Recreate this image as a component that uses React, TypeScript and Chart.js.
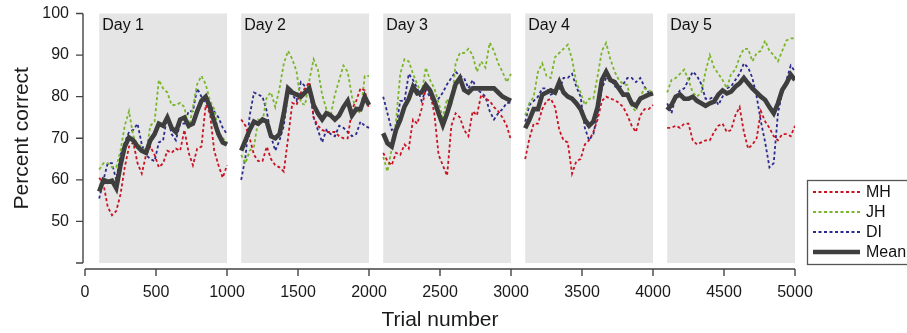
import React, { useEffect, useRef } from 'react';
import { Chart, registerables } from 'chart.js';

Chart.register(...registerables);

const FONT = '"Liberation Sans", Arial, Helvetica, sans-serif';

// ---- data ----
const dayLabels = ['Day 1', 'Day 2', 'Day 3', 'Day 4', 'Day 5'];
const dayStarts = [100, 1100, 2100, 3100, 4100];
const dayEnds = [1000, 2000, 3000, 4000, 5000];
const trialOffsets = [100, 130, 160, 190, 220, 250, 280, 310, 340, 370, 400, 430, 460, 490, 520, 550, 580, 610, 640, 670, 700, 730, 760, 790, 820, 850, 880, 910, 940, 970, 1000];
const xTickValues = [0, 500, 1000, 1500, 2000, 2500, 3000, 3500, 4000, 4500, 5000];
const yTickValues = [40, 50, 60, 70, 80, 90, 100];

const mhDay1 = [60.5, 59.0, 53.5, 51.5, 52.5, 56.5, 63.0, 68.0, 69.0, 64.0, 61.5, 66.0, 68.0, 66.0, 63.0, 64.0, 67.0, 66.5, 67.5, 67.0, 72.0, 66.5, 63.5, 67.5, 68.0, 78.0, 76.0, 67.0, 63.5, 60.5, 63.5];
const mhDay2 = [74.5, 73.0, 70.0, 66.0, 64.5, 64.5, 68.0, 65.0, 63.5, 63.0, 62.0, 70.0, 78.5, 78.0, 81.0, 82.0, 83.5, 75.0, 73.0, 72.0, 71.5, 71.5, 71.5, 70.5, 70.0, 70.0, 77.0, 79.0, 82.0, 81.5, 77.0];
const mhDay3 = [66.5, 64.5, 63.5, 66.5, 66.0, 68.5, 67.5, 74.5, 73.5, 77.0, 82.0, 81.0, 76.0, 66.0, 63.5, 61.0, 73.0, 76.0, 75.0, 72.0, 70.5, 76.5, 75.5, 80.5, 79.5, 79.0, 77.5, 76.5, 75.0, 73.0, 69.5];
const mhDay4 = [65.0, 70.0, 73.5, 73.5, 77.0, 79.0, 79.5, 77.5, 72.0, 69.5, 69.0, 61.5, 64.5, 65.0, 68.5, 69.5, 71.5, 74.5, 79.0, 80.0, 79.5, 79.2, 78.5, 77.5, 75.5, 73.0, 71.5, 75.5, 77.0, 77.0, 78.0];
const mhDay5 = [72.5, 72.5, 73.0, 72.5, 73.5, 73.5, 69.5, 68.5, 69.0, 69.5, 69.5, 71.5, 73.0, 73.5, 71.5, 72.0, 75.5, 77.5, 71.5, 67.5, 68.5, 70.0, 76.5, 74.0, 72.5, 70.5, 69.5, 71.0, 71.0, 70.5, 73.0];

const jhDay1 = [62.5, 64.0, 64.0, 63.0, 63.0, 67.0, 73.0, 76.5, 70.5, 68.5, 68.0, 66.5, 73.0, 74.0, 84.0, 82.0, 81.0, 78.0, 78.0, 78.5, 77.5, 72.0, 77.5, 83.0, 85.0, 83.0, 79.0, 77.0, 71.5, 70.0, 69.0];
const jhDay2 = [66.0, 64.0, 67.0, 68.0, 74.5, 74.0, 80.0, 81.0, 77.5, 82.0, 88.0, 91.0, 89.0, 86.0, 78.5, 78.0, 84.0, 89.0, 86.5, 80.5, 77.0, 75.5, 80.5, 84.0, 87.5, 86.0, 80.0, 77.0, 76.0, 85.0, 85.0];
const jhDay3 = [65.5, 62.0, 67.5, 74.0, 85.5, 89.0, 88.5, 85.5, 83.0, 80.5, 87.0, 84.0, 82.0, 78.5, 75.0, 79.5, 77.5, 88.0, 90.5, 90.5, 91.5, 90.0, 86.0, 88.5, 87.0, 93.0, 91.0, 88.0, 86.0, 83.5, 85.5];
const jhDay4 = [75.5, 78.5, 80.0, 86.0, 88.0, 85.0, 84.5, 89.5, 90.5, 91.5, 92.5, 89.0, 83.5, 81.0, 78.0, 79.5, 79.5, 85.0, 91.0, 92.9, 89.0, 86.0, 84.0, 83.0, 82.8, 77.5, 76.5, 80.0, 82.0, 81.5, 81.0];
const jhDay5 = [81.0, 84.0, 84.5, 85.5, 86.5, 84.0, 81.0, 80.0, 81.0, 86.0, 90.0, 87.0, 85.5, 84.0, 82.0, 85.5, 86.5, 89.5, 91.5, 91.5, 88.5, 90.5, 91.0, 93.5, 91.0, 90.0, 88.5, 91.0, 93.5, 94.0, 94.0];

const diDay1 = [55.5, 60.0, 64.0, 64.0, 60.0, 66.0, 69.0, 71.5, 72.0, 73.5, 68.5, 66.0, 65.0, 64.5, 69.0, 69.5, 75.5, 71.0, 69.5, 73.5, 73.5, 76.5, 76.5, 82.0, 80.0, 78.5, 78.0, 76.5, 75.0, 72.5, 71.0];
const diDay2 = [60.0, 65.5, 75.5, 81.0, 80.5, 80.0, 76.5, 70.5, 67.0, 69.5, 73.0, 81.0, 80.5, 79.0, 83.5, 82.5, 82.5, 75.0, 72.0, 69.0, 72.0, 71.0, 70.5, 73.0, 72.5, 71.5, 70.5, 71.0, 74.0, 73.0, 72.5];
const diDay3 = [80.0, 76.0, 72.0, 72.5, 79.0, 79.0, 85.5, 84.0, 82.0, 79.0, 81.5, 80.0, 78.5, 79.5, 81.0, 83.0, 84.5, 86.0, 85.0, 84.5, 82.0, 84.0, 81.6, 81.0, 80.0, 76.5, 74.5, 76.0, 77.0, 78.5, 78.5];
const diDay4 = [74.0, 78.0, 79.0, 80.0, 82.0, 82.0, 80.5, 81.0, 81.5, 84.5, 84.5, 85.5, 82.4, 80.0, 72.5, 69.5, 71.0, 76.0, 82.0, 84.5, 84.5, 82.5, 82.0, 83.0, 84.5, 84.5, 83.5, 84.5, 82.4, 81.0, 80.5];
const diDay5 = [78.4, 76.0, 80.0, 81.5, 82.0, 84.0, 86.0, 85.0, 83.0, 79.5, 79.5, 80.0, 78.0, 80.0, 82.0, 82.5, 84.0, 85.5, 88.0, 87.0, 84.5, 80.0, 74.0, 69.0, 63.0, 64.0, 76.0, 81.0, 84.0, 87.5, 86.0];

const meanDay1 = [57.2, 60.0, 59.5, 59.8, 58.0, 63.5, 68.0, 70.2, 69.5, 68.0, 67.0, 66.5, 69.5, 71.0, 73.5, 73.0, 75.0, 72.5, 71.5, 74.5, 75.0, 73.0, 73.5, 76.5, 79.0, 80.0, 77.5, 74.0, 71.0, 69.0, 68.5];
const meanDay2 = [67.0, 69.5, 72.0, 74.0, 73.5, 74.5, 74.0, 70.5, 70.0, 71.0, 76.0, 82.0, 81.0, 80.5, 80.0, 81.0, 82.0, 78.0, 76.0, 74.5, 76.0, 75.5, 74.5, 75.5, 77.5, 79.0, 75.5, 77.0, 77.0, 80.0, 78.0];
const meanDay3 = [71.2, 68.8, 68.0, 72.0, 74.4, 77.6, 79.5, 82.4, 80.8, 81.0, 82.8, 81.5, 79.0, 76.0, 73.2, 76.0, 79.5, 83.0, 84.5, 81.6, 81.0, 82.0, 82.0, 82.0, 82.0, 82.0, 82.0, 81.0, 80.0, 79.5, 79.0];
const meanDay4 = [72.4, 74.5, 77.0, 77.0, 80.5, 81.0, 81.5, 81.0, 83.5, 81.0, 80.0, 79.5, 78.4, 77.0, 74.5, 73.0, 74.0, 77.5, 84.0, 86.0, 84.0, 83.5, 82.0, 80.5, 80.5, 78.4, 77.8, 79.5, 80.0, 80.5, 80.8];
const meanDay5 = [76.8, 78.0, 80.0, 80.5, 79.5, 79.5, 80.0, 79.0, 78.4, 77.8, 78.4, 78.8, 80.5, 81.5, 80.8, 81.2, 82.4, 83.2, 84.5, 83.2, 82.0, 81.0, 80.0, 79.2, 77.5, 76.0, 78.4, 81.6, 83.2, 85.3, 84.0];

const seriesNames = ['MH', 'JH', 'DI', 'Mean'];
const seriesDays = [
  [mhDay1, mhDay2, mhDay3, mhDay4, mhDay5],
  [jhDay1, jhDay2, jhDay3, jhDay4, jhDay5],
  [diDay1, diDay2, diDay3, diDay4, diDay5],
  [meanDay1, meanDay2, meanDay3, meanDay4, meanDay5],
];

// ---- styles ----
const seriesColors = ['#cc1222', '#79b62a', '#2b2b8e', '#3e3e3e'];
const seriesWidths = [1.8, 1.8, 1.8, 4.6];
const seriesDashes = [[3, 2.5], [3, 2.5], [3, 2.5], []];

function buildPoints(days: number[][]) {
  const pts: { x: number; y: number | null }[] = [];
  days.forEach((vals, d) => {
    vals.forEach((v, i) => pts.push({ x: d * 1000 + trialOffsets[i], y: v }));
    if (d < days.length - 1) pts.push({ x: d * 1000 + 1050, y: null });
  });
  return pts;
}

const decorPlugin = {
  id: 'decor',
  beforeDatasetsDraw(chart: any) {
    const { ctx, chartArea, scales } = chart;
    const xs = scales.x;
    ctx.save();
    ctx.fillStyle = '#e5e5e5';
    for (let d = 0; d < dayStarts.length; d++) {
      const x0 = xs.getPixelForValue(dayStarts[d]);
      const x1 = xs.getPixelForValue(dayEnds[d]);
      ctx.fillRect(x0, chartArea.top, x1 - x0, chartArea.bottom - chartArea.top);
    }
    ctx.fillStyle = '#111';
    ctx.font = `16px ${FONT}`;
    ctx.textBaseline = 'alphabetic';
    ctx.textAlign = 'left';
    for (let d = 0; d < dayStarts.length; d++) {
      const x0 = xs.getPixelForValue(dayStarts[d]);
      ctx.fillText(dayLabels[d], x0 + 3, chartArea.top + 16.5);
    }
    ctx.restore();
  },
  afterDraw(chart: any) {
    const { ctx, chartArea, scales } = chart;
    const xs = scales.x;
    const ys = scales.y;
    ctx.save();
    ctx.strokeStyle = '#444';
    ctx.lineWidth = 1.4;
    ctx.setLineDash([]);
    // y axis
    const ax = chartArea.left - 2;
    ctx.beginPath();
    ctx.moveTo(ax, ys.getPixelForValue(yTickValues[0]));
    ctx.lineTo(ax, ys.getPixelForValue(yTickValues[yTickValues.length - 1]));
    yTickValues.forEach((v) => {
      const py = ys.getPixelForValue(v);
      ctx.moveTo(ax, py);
      ctx.lineTo(ax - 7, py);
    });
    // x axis
    const ay = chartArea.bottom + 6;
    ctx.moveTo(xs.getPixelForValue(xTickValues[0]), ay);
    ctx.lineTo(xs.getPixelForValue(xTickValues[xTickValues.length - 1]), ay);
    xTickValues.forEach((v) => {
      const px = xs.getPixelForValue(v);
      ctx.moveTo(px, ay);
      ctx.lineTo(px, ay + 7);
    });
    ctx.stroke();

    // legend
    const lx = chartArea.right + 12;
    const ly = chartArea.bottom - 83;
    ctx.lineWidth = 1.3;
    ctx.strokeStyle = '#555';
    ctx.strokeRect(lx + 0.5, ly + 0.5, 160, 84);
    ctx.font = `16px ${FONT}`;
    ctx.textBaseline = 'middle';
    ctx.textAlign = 'left';
    seriesNames.forEach((name, i) => {
      const yy = ly + 12 + i * 20;
      ctx.beginPath();
      ctx.strokeStyle = seriesColors[i];
      ctx.lineWidth = seriesWidths[i];
      ctx.setLineDash(seriesDashes[i]);
      ctx.moveTo(lx + 6, yy);
      ctx.lineTo(lx + 53, yy);
      ctx.stroke();
      ctx.setLineDash([]);
      ctx.fillStyle = '#111';
      ctx.fillText(name, lx + 59, yy + 0.5);
    });
    ctx.restore();
  },
};

export default function App() {
  const ref = useRef<HTMLCanvasElement | null>(null);
  useEffect(() => {
    if (!ref.current) return;
    const datasets = seriesNames.map((name, i) => ({
      label: name,
      data: buildPoints(seriesDays[i]),
      borderColor: seriesColors[i],
      backgroundColor: seriesColors[i],
      borderWidth: seriesWidths[i],
      borderDash: seriesDashes[i],
      pointRadius: 0,
      tension: 0,
      spanGaps: false,
      fill: false,
      order: name === 'Mean' ? 0 : 1,
    }));
    const chart = new Chart(ref.current, {
      type: 'line',
      data: { datasets },
      plugins: [decorPlugin],
      options: {
        animation: false,
        responsive: false,
        maintainAspectRatio: false,
        layout: { padding: { left: 0, right: 112, top: 13.5, bottom: 0 } },
        plugins: { legend: { display: false }, tooltip: { enabled: false } },
        scales: {
          x: {
            type: 'linear',
            min: 0,
            max: 5000,
            afterFit: (s: any) => { s.height = 70; s.paddingLeft = 0; s.paddingRight = 0; },
            afterBuildTicks: (s: any) => { s.ticks = xTickValues.map((v) => ({ value: v })); },
            grid: { display: false, drawTicks: false },
            border: { display: false },
            ticks: {
              padding: 20,
              maxRotation: 0,
              autoSkip: false,
              color: '#1a1a1a',
              font: { family: FONT, size: 16 },
              callback: (v: any) => String(v),
            },
            title: {
              display: true,
              text: 'Trial number',
              color: '#1a1a1a',
              font: { family: FONT, size: 21 },
              padding: { top: 0, bottom: 0 },
            },
          },
          y: {
            type: 'linear',
            min: 40,
            max: 100,
            afterFit: (s: any) => { s.width = 85; s.paddingTop = 0; s.paddingBottom = 0; },
            afterBuildTicks: (s: any) => { s.ticks = yTickValues.map((v) => ({ value: v })); },
            grid: { display: false, drawTicks: false },
            border: { display: false },
            ticks: {
              padding: 16,
              color: '#1a1a1a',
              font: { family: FONT, size: 16 },
              callback: (v: any) => (v === yTickValues[0] ? '' : String(v)),
            },
            title: {
              display: true,
              text: 'Percent correct',
              color: '#1a1a1a',
              font: { family: FONT, size: 21 },
              padding: { top: 10, bottom: 0 },
            },
          },
        },
      },
    });
    return () => chart.destroy();
  }, []);
  return (
    <div style={{ position: 'absolute', left: 0, top: 0, width: 907, height: 333, background: '#fff' }}>
      <canvas ref={ref} width={907} height={333} style={{ display: 'block' }} />
    </div>
  );
}
